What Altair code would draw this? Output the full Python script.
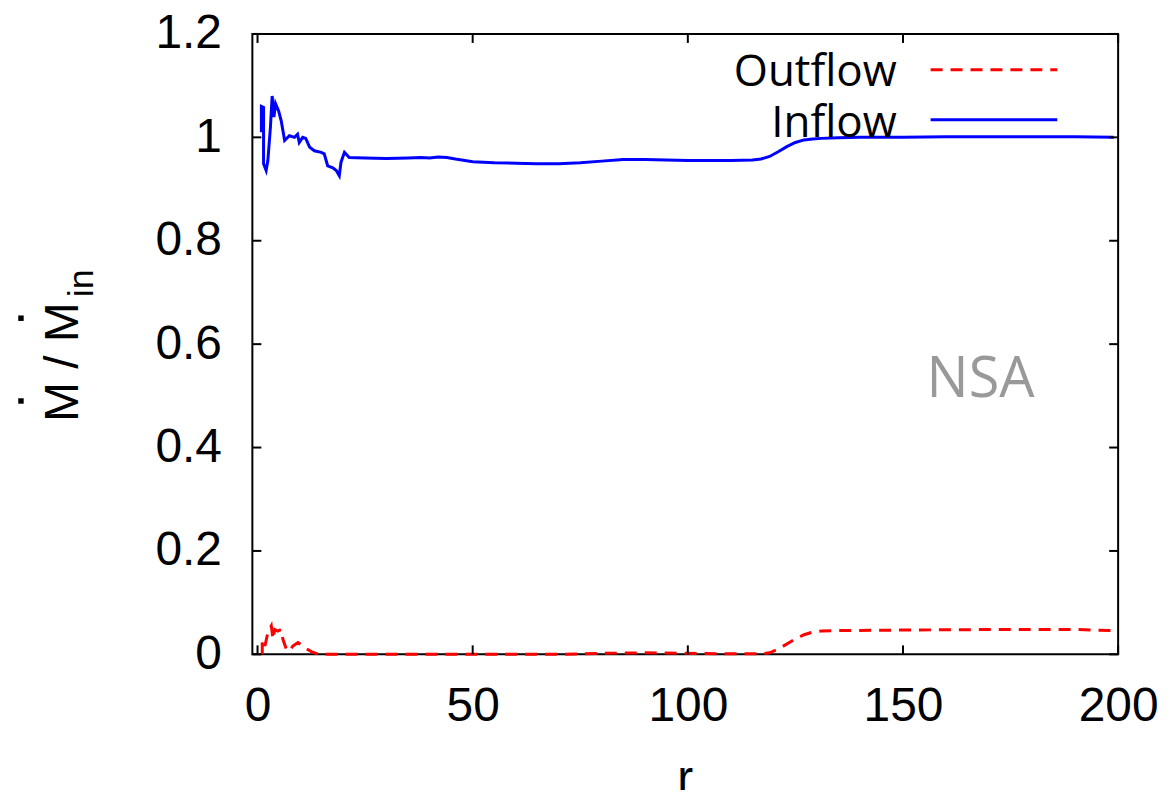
import altair as alt
import pandas as pd

# ---- data ----
inflow_r = [0.9, 0.9, 1.4, 1.4, 2.0, 2.4, 3.0, 3.4, 3.8, 4.2, 4.9, 5.5, 6.3, 7.4, 8.6, 9.3, 9.7,
            10.5, 11.2, 12.1, 13.2, 14.8, 15.5, 16.3, 17.5, 18.3, 19.0, 19.4, 20.2, 21.3, 25, 30,
            35, 38, 40, 42, 44, 46, 50, 55, 60, 65, 70, 75, 80, 85, 90, 95, 100, 105, 110, 115,
            117, 119, 121, 123, 125, 127, 129, 131, 135, 140, 150, 160, 170, 180, 190, 199]
inflow_v = [1.01, 1.06, 1.058, 0.949, 0.936, 0.955, 1.02, 1.08, 1.039, 1.065, 1.051, 1.032,
            0.994, 1.003, 1.0, 1.006, 0.99, 1.0, 0.998, 0.981, 0.974, 0.971, 0.968, 0.945, 0.941,
            0.936, 0.926, 0.952, 0.971, 0.961, 0.960, 0.959, 0.960, 0.961, 0.960, 0.962, 0.961,
            0.958, 0.953, 0.951, 0.950, 0.949, 0.949, 0.951, 0.954, 0.957, 0.957, 0.956, 0.955,
            0.955, 0.955, 0.956, 0.958, 0.963, 0.972, 0.982, 0.990, 0.995, 0.997, 0.998, 0.999,
            1.0, 1.0, 1.001, 1.001, 1.001, 1.001, 1.0]

outflow_r = [1.1, 1.1, 1.6, 2.4, 3.2, 3.6, 4.0, 4.7, 5.5, 5.9, 6.7, 7.4, 8.2, 9.4, 10.1, 11.3,
             12.8, 14.3, 20, 30, 50, 70, 80, 90, 100, 110, 117, 119, 121, 123, 125, 127, 129,
             131, 135, 150, 170, 190, 199]
outflow_v = [0.0, 0.023, 0.012, 0.042, 0.055, 0.029, 0.048, 0.045, 0.048, 0.029, 0.01, 0.006,
             0.016, 0.023, 0.019, 0.011, 0.004, 0.0, 0.0, 0.0, 0.0, 0.0, 0.002, 0.003, 0.002,
             0.001, 0.001, 0.003, 0.010, 0.020, 0.030, 0.038, 0.043, 0.045, 0.046, 0.047, 0.048,
             0.048, 0.046]

x_ticks = [0, 50, 100, 150, 200]
y_ticks = [0, 0.2, 0.4, 0.6, 0.8, 1.0, 1.2]
series_names = ["Outflow", "Inflow"]
y_title_main = "M / M"
y_title_sub = "in"
x_title = "r"
annotation = "NSA"

W, H = 868, 622
TL = 9  # tick length

inflow_df = pd.DataFrame({"r": inflow_r, "v": inflow_v, "i": range(len(inflow_r))})
outflow_df = pd.DataFrame({"r": outflow_r, "v": outflow_v, "i": range(len(outflow_r))})
xt_df = pd.DataFrame({"t": x_ticks})
yt_df = pd.DataFrame({"t": y_ticks})

AX_FONT = "Liberation Sans"
xscale = alt.Scale(domain=[-1.2, 200], nice=False, zero=False)
yscale = alt.Scale(domain=[0, 1.2], nice=False)

xaxis = alt.Axis(values=x_ticks, ticks=False, domain=False, grid=False, title="",
                 labelFont=AX_FONT, labelFontSize=48, labelColor="black", labelPadding=28,
                 labelFlush=False, labelOverlap=False)
yaxis = alt.Axis(values=y_ticks, ticks=False, domain=False, grid=False, title="",
                 labelFont=AX_FONT, labelFontSize=48, labelColor="black",
                 labelPadding=31, labelFlush=False, labelOverlap=False,
                 labelExpr="datum.value == 1 ? '1' : format(datum.value, '.1f') == '0.0' ? '0' : format(datum.value, '.1f')")

inflow = alt.Chart(inflow_df).mark_line(color="#0000ff", strokeWidth=3).encode(
    x=alt.X("r:Q", scale=xscale, axis=xaxis),
    y=alt.Y("v:Q", scale=yscale, axis=yaxis),
    order="i:Q",
)
outflow = alt.Chart(outflow_df).mark_line(color="#ff0000", strokeWidth=3, strokeDash=[12, 8]).encode(
    x=alt.X("r:Q", scale=xscale),
    y=alt.Y("v:Q", scale=yscale),
    order="i:Q",
)

xt_bottom = alt.Chart(xt_df).mark_rule(color="black", strokeWidth=2).encode(
    x=alt.X("t:Q", scale=xscale), y=alt.value(H), y2=alt.value(H - TL))
xt_top = alt.Chart(xt_df).mark_rule(color="black", strokeWidth=2).encode(
    x=alt.X("t:Q", scale=xscale), y=alt.value(0), y2=alt.value(TL))
yt_left = alt.Chart(yt_df).mark_rule(color="black", strokeWidth=2).encode(
    y=alt.Y("t:Q", scale=yscale), x=alt.value(0), x2=alt.value(TL))
yt_right = alt.Chart(yt_df).mark_rule(color="black", strokeWidth=2).encode(
    y=alt.Y("t:Q", scale=yscale), x=alt.value(W), x2=alt.value(W - TL))

# axis titles (drawn as text so the dotted M and subscript can be composed)
def one(s):
    return pd.DataFrame({"s": [s]})

ytitle = alt.Chart(one(y_title_main)).mark_text(
    angle=270, align="center", baseline="alphabetic", font=AX_FONT, fontSize=48,
    color="black").encode(text="s:N", x=alt.value(-175), y=alt.value(329))
ytitle_sub = alt.Chart(one(y_title_sub)).mark_text(
    angle=270, align="center", baseline="alphabetic", font=AX_FONT, fontSize=36,
    color="black").encode(text="s:N", x=alt.value(-160), y=alt.value(250))
ydot1 = alt.Chart(one("d1")).mark_square(color="black", size=30, opacity=1).encode(
    x=alt.value(-232), y=alt.value(368))
ydot2 = alt.Chart(one("d2")).mark_square(color="black", size=30, opacity=1).encode(
    x=alt.value(-232), y=alt.value(285))
xtitle = alt.Chart(one(x_title)).mark_text(
    align="center", baseline="alphabetic", font=AX_FONT, fontSize=48,
    color="black").encode(text="s:N", x=alt.value(W / 2), y=alt.value(762))

LEG_FONT = "Open Sans"
leg_out_txt = alt.Chart(one(series_names[0])).mark_text(
    align="right", baseline="alphabetic", font=LEG_FONT, fontSize=44, color="black").encode(
    text="s:N", x=alt.value(646), y=alt.value(52))
leg_in_txt = alt.Chart(one(series_names[1])).mark_text(
    align="right", baseline="alphabetic", font=LEG_FONT, fontSize=44, color="black").encode(
    text="s:N", x=alt.value(646), y=alt.value(103))
leg_out_line = alt.Chart(one(series_names[0])).mark_rule(
    color="#ff0000", strokeWidth=3, strokeDash=[12, 8]).encode(
    x=alt.value(680), x2=alt.value(807), y=alt.value(36))
leg_in_line = alt.Chart(one(series_names[1])).mark_rule(
    color="#0000ff", strokeWidth=3).encode(
    x=alt.value(680), x2=alt.value(807), y=alt.value(86))
nsa = alt.Chart(one(annotation)).mark_text(
    align="left", baseline="alphabetic", font=LEG_FONT, fontSize=56, color="#999999").encode(
    text="s:N", x=alt.value(676), y=alt.value(364))

chart = alt.layer(
    outflow, inflow, xt_bottom, xt_top, yt_left, yt_right,
    ytitle, ytitle_sub, ydot1, ydot2, xtitle,
    leg_out_txt, leg_in_txt, leg_out_line, leg_in_line, nsa,
).properties(
    width=W, height=H,
    autosize=alt.AutoSizeParams(type="none"),
    padding={"left": 245, "top": 25, "right": 50, "bottom": 135},
).configure(
    background="white"
).configure_view(
    stroke="black", strokeWidth=2
)

chart.save("out.html", embed_options={"renderer": "svg", "actions": False})
